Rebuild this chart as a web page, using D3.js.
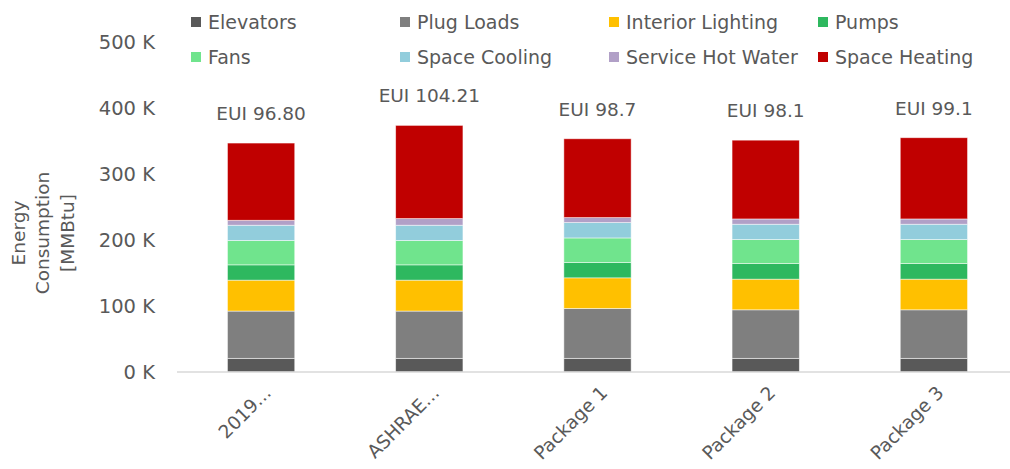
<!DOCTYPE html>
<head>
    <meta charset="utf-8">
    <style>
        body{
            margin:0;
            background:#fff;
        }
        svg text{
            font-family: 'DejaVu Sans', sans-serif;
            fill:#595959;
        }
        .axis .domain{
            display:none;
        }
        .axis line{
            display:none;
        }
    </style>
</head>
<body>
    <div id="chart"></div>
    <script src="https://cdn.jsdelivr.net/npm/d3@7/dist/d3.min.js"></script>
    <script>
        // scenarios (x categories)
        var scenarios = ["2019...", "ASHRAE...", "Package 1", "Package 2", "Package 3"];
        var euiLabels = ["EUI 96.80", "EUI 104.21", "EUI 98.7", "EUI 98.1", "EUI 99.1"];

        // end uses, bottom to top
        var endUses = ["Elevators", "Plug Loads", "Interior Lighting", "Pumps",
                       "Fans", "Space Cooling", "Service Hot Water", "Space Heating"];
        var colors = ["#595959", "#7f7f7f", "#ffc000", "#2eb85f",
                      "#70e48d", "#92cddc", "#b1a0c7", "#c00000"];

        // energy consumption per end use [MMBtu]
        var elevators        = [20700, 20700, 20700, 20700, 20700];
        var plugLoads        = [71700, 71700, 75700, 73600, 73600];
        var interiorLighting = [46900, 46900, 46400, 46500, 46500];
        var pumps            = [23200, 23200, 23300, 23800, 23800];
        var fans             = [36900, 36900, 37200, 36300, 36300];
        var spaceCooling     = [23200, 23200, 23300, 23200, 23200];
        var serviceHotWater  = [7500, 10100, 7600, 8000, 8000];
        var spaceHeating     = [117100, 141300, 119500, 119500, 123200];

        var yTicks = [0, 100000, 200000, 300000, 400000, 500000];

        var series = [elevators, plugLoads, interiorLighting, pumps,
                      fans, spaceCooling, serviceHotWater, spaceHeating];

        var data = scenarios.map(function(s, i) {
            var row = {scenario: s, eui: euiLabels[i]};
            endUses.forEach(function(k, j) { row[k] = series[j][i]; });
            return row;
        });

        var width = 1010, height = 469;

        var svg = d3.select("#chart").append("svg")
            .attr("width", width)
            .attr("height", height);

        var x = d3.scaleBand()
            .domain(scenarios)
            .range([177, 1018])
            .paddingInner(0.6)
            .paddingOuter(0.3);

        var y = d3.scaleLinear()
            .domain([0, 500000])
            .range([372, 42.3]);

        var color = d3.scaleOrdinal().domain(endUses).range(colors);

        // y axis labels
        svg.append("g")
            .attr("class", "axis")
            .attr("transform", "translate(177,0)")
            .call(d3.axisLeft(y).tickValues(yTicks).tickSize(0).tickPadding(22)
                .tickFormat(function(d) { return (d / 1000) + " K"; }))
            .selectAll("text")
                .style("font-size", "19.5px");

        // y axis title
        svg.append("text")
            .attr("transform", "translate(24.5,233) rotate(-90)")
            .attr("text-anchor", "middle")
            .style("font-size", "18.5px")
            .selectAll("tspan")
            .data(["Energy", "Consumption", "[MMBtu]"])
            .enter().append("tspan")
                .attr("x", 0)
                .attr("dy", function(d, i) { return i == 0 ? 0 : 24.5; })
                .text(function(d) { return d; });

        // stacked bars
        var stacked = d3.stack().keys(endUses)(data);

        svg.append("g")
            .selectAll("g")
            .data(stacked)
            .enter().append("g")
                .attr("fill", function(d) { return color(d.key); })
            .selectAll("rect")
            .data(function(d) { return d; })
            .enter().append("rect")
                .attr("x", function(d) { return x(d.data.scenario); })
                .attr("y", function(d) { return y(d[1]); })
                .attr("width", x.bandwidth())
                .attr("height", function(d) { return y(d[0]) - y(d[1]); })
                .attr("stroke", "#fff")
                .attr("stroke-opacity", 0.6)
                .attr("stroke-width", 0.8);

        // category axis line
        svg.append("line")
            .attr("x1", x.range()[0])
            .attr("x2", x.range()[1])
            .attr("y1", y(0))
            .attr("y2", y(0))
            .attr("stroke", "#d9d9d9")
            .attr("stroke-width", 1.5);

        // EUI labels above bars
        var topLayer = stacked[stacked.length - 1];
        svg.append("g")
            .selectAll("text")
            .data(topLayer)
            .enter().append("text")
                .attr("x", function(d) { return x(d.data.scenario) + x.bandwidth() / 2; })
                .attr("y", function(d) { return y(d[1]) - 23; })
                .attr("text-anchor", "middle")
                .style("font-size", "18.5px")
                .text(function(d) { return d.data.eui; });

        // rotated category labels
        svg.append("g")
            .selectAll("text")
            .data(scenarios)
            .enter().append("text")
                .attr("transform", function(d) {
                    return "translate(" + (x(d) + x.bandwidth() / 2 + 11) + "," + (y(0) + 22) + ") rotate(-45)";
                })
                .attr("text-anchor", "end")
                .style("font-size", "18.5px")
                .text(function(d) { return d; });

        // legend, 4 columns x 2 rows
        var legend = svg.append("g")
            .selectAll("g")
            .data(endUses)
            .enter().append("g")
                .attr("transform", function(d, i) {
                    return "translate(" + (191 + (i % 4) * 209) + "," + (17 + Math.floor(i / 4) * 35) + ")";
                });

        legend.append("rect")
            .attr("width", 10)
            .attr("height", 10)
            .attr("fill", function(d) { return color(d); });

        legend.append("text")
            .attr("x", 17)
            .attr("y", 11.5)
            .style("font-size", "19px")
            .text(function(d) { return d; });
    </script>
</body>
